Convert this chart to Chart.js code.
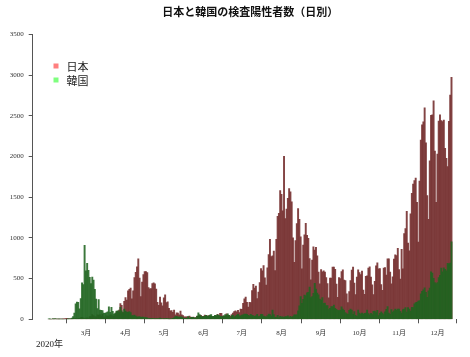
<!DOCTYPE html>
<html><head><meta charset="utf-8">
<script src="https://cdn.jsdelivr.net/npm/chart.js@4.4.1/dist/chart.umd.min.js"></script>
<style>html,body{margin:0;padding:0;background:#fff}#wrap{width:470px;height:357px}</style>
</head><body><div id="wrap"><canvas id="c" width="470" height="357"></canvas></div>
<script>
const chartTitle = '日本と韓国の検査陽性者数（日別）';
const yearLabel = '2020年';
const seriesNames = ['日本', '韓国'];
const startDate = '2020-02-01';

// daily positives, Japan (2020-02-01 .. 2020-12-12)
const japan = [
  // Feb
  0,0,0,1,0,3,0,1,0,1, 0,1,4,8,12,6,6,7,3,12, 8,12,6,12,13,21,24,19,9,
  // Mar
  14,17,14,34,33,59,47,33,26,54, 52,55,40,64,31,15,44,39,36,53, 54,43,38,65,93,96,112,194,173,87, 220,
  // Apr
  266,235,351,368,383,252,351,511,576,644, 743,507,279,457,549,587,585,574,391,373, 378,438,449,436,372,207,173,274,202,165,
  // May
  264,302,205,216,135,103,106,85,112,56, 79,77,55,100,55,45,31,30,29,30, 39,27,24,26,21,21,38,39,43,50, 35,
  // Jun
  37,51,46,39,47,41,35,27,37,41, 42,61,43,72,72,43,41,35,68,40, 50,38,57,77,96,105,92,111,84,127,
  // Jul
  121,195,250,274,209,151,207,206,354,430, 384,408,255,334,450,622,594,659,510,421, 632,795,981,770,779,839,598,981,1264,1300, 1580,
  // Aug
  1536,1331,2000,1237,1354,1485,1605,1566,1442,1000, 701,966,1176,1360,1227,1014,620,910,1036,1180, 1032,994,745,484,728,889,850,885,780,580, 437,
  // Sep
  610,583,596,579,511,439,265,507,507,642, 641,615,434,269,511,500,585,608,482,475, 313,206,339,476,604,640,445,303,520,606,
  // Oct
  575,549,593,359,306,527,533,628,645,517, 422,303,466,656,692,619,624,426,357,629, 634,542,743,742,581,437,521,741,792,783, 872,
  // Nov
  612,495,858,619,1054,1114,1327,936,840,1296, 1548,1660,1704,1735,1438,949,1698,2201,2388,2425, 2596,2168,1518,1227,1945,2506,2510,2684,2066,1436,
  // Dec
  2030,2433,2510,2439,2427,2447,2100,1977,1874,2430, 2755,2972
];

// daily positives, Korea (2020-02-01 .. 2020-12-12)
const korea = [
  // Feb
  1,3,0,1,2,5,1,0,3,0, 1,0,0,0,0,1,1,1,15,34, 75,190,210,207,130,253,449,427,909,
  // Mar
  595,686,600,516,438,518,483,367,248,131, 242,114,110,107,76,74,84,93,152,87, 147,98,64,76,100,104,91,146,105,78, 125,
  // Apr
  101,89,86,94,81,47,47,53,39,27, 30,32,25,27,27,22,22,18,8,13, 9,11,8,6,10,10,10,14,9,4,
  // May
  9,6,13,8,3,2,4,12,18,34, 35,27,26,29,27,19,13,15,13,32, 12,20,23,25,16,19,40,79,58,39, 27,
  // Jun
  35,38,49,39,39,51,57,38,38,50, 45,56,49,34,37,34,43,59,49,67, 48,17,46,51,28,39,51,62,42,43,
  // Jul
  51,54,63,63,61,48,44,62,50,45, 35,44,62,33,39,61,60,39,34,26, 45,63,59,41,113,58,25,28,48,18, 36,
  // Aug
  31,30,23,34,33,43,20,36,28,34, 54,56,56,103,166,279,197,246,297,288, 324,332,397,266,280,320,441,371,323,299, 248,
  // Sep
  235,267,195,198,168,167,119,136,156,155, 176,136,121,109,106,113,153,126,110,82, 70,61,110,125,114,61,95,50,38,113,
  // Oct
  77,63,75,64,73,75,114,69,54,72, 58,98,102,84,110,47,73,91,76,58, 91,121,155,77,61,119,88,103,125,114, 127,
  // Nov
  124,97,75,118,125,145,89,143,126,100, 146,143,191,205,208,223,230,313,343,363, 386,330,271,349,382,583,569,504,450,438,
  // Dec
  451,511,540,629,583,631,615,594,686,682, 689,950
];

const monthTickDates = ['2020-03-01','2020-04-01','2020-05-01','2020-06-01','2020-07-01','2020-08-01','2020-09-01','2020-10-01','2020-11-01','2020-12-01'];
const monthTickLabels = ['3月','4月','5月','6月','7月','8月','9月','10月','11月','12月'];
const yTickValues = [0, 500, 1000, 1500, 2000, 2500, 3000, 3500];

// ---- build the day-number categories ----
const DAY = 86400000;
const jan1 = Date.UTC(2020, 0, 1);
function dayOf(s) { return Math.round((Date.parse(s + 'T00:00:00Z') - jan1) / DAY); }
const startDay = dayOf(startDate);
const categories = japan.map((_, i) => startDay + i);
const tickDays = monthTickDates.map(dayOf);
const span = categories[categories.length - 1] - categories[0];
const xMin = categories[0] - 0.04 * span;
const xMax = categories[categories.length - 1] + 0.04 * span;

const serif = "'Liberation Serif','Noto Sans CJK JP',serif";
const cjk = "'Noto Sans CJK JP',sans-serif";
const colors = {
  japanBar: 'rgba(118,48,48,0.9)',
  koreaBar: 'rgba(32,100,32,0.88)',
  japanKey: 'rgba(255,0,0,0.5)',
  koreaKey: 'rgba(0,255,0,0.5)',
  axis: '#555'
};

const textPlugin = {
  id: 'texts',
  afterDraw(chart) {
    const ctx = chart.ctx, a = chart.chartArea;
    ctx.save();
    ctx.fillStyle = '#111';
    ctx.font = "bold 11px " + cjk;
    ctx.textAlign = 'center';
    ctx.textBaseline = 'middle';
    ctx.fillText(chartTitle, (a.left + a.right) / 2, 12);
    // legend
    const keys = [colors.japanKey, colors.koreaKey];
    ctx.font = "11px " + cjk;
    ctx.textAlign = 'left';
    seriesNames.forEach((n, i) => {
      const cy = 66 + i * 14;
      ctx.fillStyle = keys[i];
      ctx.fillRect(53.5, cy - 2.5, 5, 5);
      ctx.fillStyle = '#222';
      ctx.fillText(n, 66.5, cy + 0.5);
    });
    ctx.font = "9px " + serif;
    ctx.fillStyle = '#222';
    ctx.textAlign = 'left';
    ctx.fillText(yearLabel, 36, 345);
    ctx.restore();
  }
};

new Chart(document.getElementById('c'), {
  type: 'bar',
  data: {
    datasets: [
      { label: seriesNames[0], data: categories.map((d, i) => ({ x: d, y: japan[i] })),
        backgroundColor: colors.japanBar, borderWidth: 0, order: 2, grouped: false,
        categoryPercentage: 1, barPercentage: 1 },
      { label: seriesNames[1], data: categories.map((d, i) => ({ x: d, y: korea[i] })),
        backgroundColor: colors.koreaBar, borderWidth: 0, order: 1, grouped: false,
        categoryPercentage: 1, barPercentage: 1 }
    ]
  },
  options: {
    responsive: false,
    animation: false,
    devicePixelRatio: 1,
    layout: { padding: { top: 34.3, right: 2.4, bottom: 0, left: 0 } },
    plugins: { legend: { display: false }, title: { display: false }, tooltip: { enabled: false } },
    scales: {
      x: {
        type: 'linear', min: xMin, max: xMax, offset: false,
        afterBuildTicks(s) { s.ticks = tickDays.map(v => ({ value: v })); },
        afterFit(s) { s.height = 37.7; s.paddingLeft = 0; s.paddingRight = 0; },
        ticks: {
          autoSkip: false, maxRotation: 0, padding: 6, color: '#333',
          font: { family: serif, size: 7 },
          callback(v) { const k = tickDays.indexOf(v); return k >= 0 ? monthTickLabels[k] : ''; }
        },
        grid: { drawOnChartArea: false, drawTicks: true, tickLength: 4, color: colors.axis, lineWidth: 1 },
        border: { display: false }
      },
      y: {
        min: 0, max: 3500,
        afterBuildTicks(s) { s.ticks = yTickValues.map(v => ({ value: v })); },
        afterFit(s) { s.width = 32.7; s.paddingTop = 0; s.paddingBottom = 0; },
        ticks: { padding: 5, color: '#333', font: { family: serif, size: 7 }, callback(v) { return String(v); } },
        grid: { drawOnChartArea: false, drawTicks: true, tickLength: 4, color: colors.axis, lineWidth: 1 },
        border: { display: true, color: colors.axis, width: 1 }
      }
    }
  },
  plugins: [textPlugin]
});
</script></body></html>
